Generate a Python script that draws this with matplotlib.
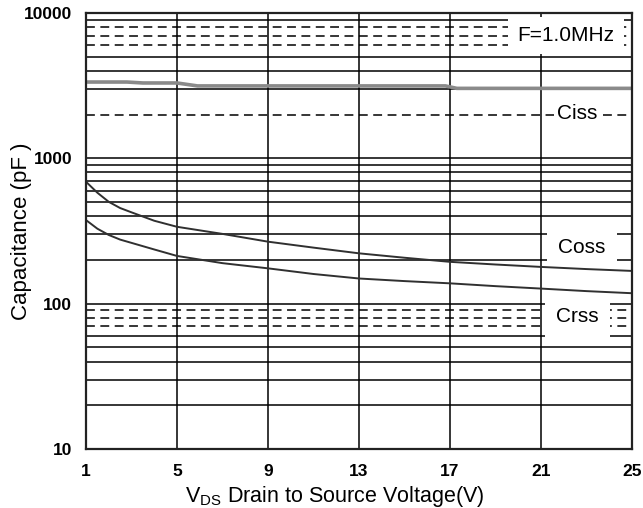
import matplotlib
matplotlib.use("Agg")
import matplotlib.pyplot as plt

plt.rcParams['font.family'] = ['Liberation Sans', 'DejaVu Sans']
plt.rcParams['mathtext.fontset'] = 'custom'
plt.rcParams['mathtext.rm'] = 'Liberation Sans'
plt.rcParams['mathtext.it'] = 'Liberation Sans'

# ---- data ----
vds = [1, 1.5, 2, 2.5, 3, 4, 5, 7, 9, 11, 13, 15, 17, 19, 21, 23, 25]
coss = [690, 580, 502, 455, 425, 372, 338, 302, 267, 243, 222, 207, 194, 186, 179, 173, 168]
crss = [376, 328, 297, 276, 262, 236, 213, 190, 175, 160, 149, 143, 138, 132, 127, 122, 118]

vds_ciss = [1, 2.8, 3.5, 5.0, 5.9, 16.8, 17.3, 25]
ciss = [3350, 3350, 3300, 3300, 3150, 3150, 3030, 3030]

x_ticks = [1, 5, 9, 13, 17, 21, 25]
y_ticks = [10, 100, 1000, 10000]
y_ticklabels = ['10', '100', '1000', '10000']

solid_grid = [9000, 5000, 4000, 3000, 1000, 900, 800, 700, 600, 500, 400, 300, 200,
              100, 60, 50, 40, 30, 20]
dashed_grid = [8000, 7000, 6000, 2000, 90, 80, 70]

# ---- figure ----
fig = plt.figure(figsize=(6.43, 5.08), dpi=100)
ax = fig.add_axes([86/643, 1-449/508, 546/643, 436/508])
ax.set_yscale('log')
ax.set_xlim(1, 25)
ax.set_ylim(10, 10000)

for v in solid_grid:
    ax.axhline(v, color='black', lw=1.1, zorder=1)
for v in dashed_grid:
    ax.axhline(v, color='black', lw=1.1, dashes=(5.8, 3.6), zorder=1)
for v in x_ticks:
    ax.axvline(v, color='black', lw=1.1, zorder=1)

ax.plot(vds_ciss, ciss, color='#8a8a8a', lw=2.6, zorder=4, solid_capstyle='butt')
ax.plot(vds, coss, color='#303030', lw=1.4, zorder=4)
ax.plot(vds, crss, color='#303030', lw=1.4, zorder=4)

box = dict(facecolor='white', edgecolor='none', boxstyle='square,pad=0.45')
ax.text(22.1, 7000, 'F=1.0MHz', fontsize=15, ha='center', va='center', bbox=box, zorder=3)
ax.text(22.6, 2050, 'Ciss', fontsize=15, ha='center', va='center',
        bbox=dict(facecolor='white', edgecolor='none', boxstyle='square,pad=0.15'), zorder=3)
ax.text(22.8, 242, 'Coss', fontsize=15, ha='center', va='center',
        bbox=dict(facecolor='white', edgecolor='none', boxstyle='square,pad=0.55'), zorder=3)
ax.text(22.6, 82, 'Crss', fontsize=15, ha='center', va='center',
        bbox=dict(facecolor='white', edgecolor='none', boxstyle='square,pad=0.55'), zorder=3)

ax.set_xticks(x_ticks)
ax.set_xticklabels([str(v) for v in x_ticks], fontweight='bold')
ax.set_yticks(y_ticks)
ax.set_yticklabels(y_ticklabels, fontweight='bold')
ax.yaxis.set_minor_locator(matplotlib.ticker.NullLocator())
ax.tick_params(axis='both', length=0, labelsize=12.5)
ax.tick_params(axis='x', pad=11)
ax.tick_params(axis='y', pad=10)

for s in ax.spines.values():
    s.set_linewidth(1.6)
    s.set_color('#222222')
    s.set_zorder(5)

ax.set_ylabel('Capacitance (pF )', fontsize=16)
ax.yaxis.set_label_coords(-0.099, 0.5)
ax.set_xlabel(r'V$_{\mathrm{DS}}$ Drain to Source Voltage(V)', fontsize=15.5)
ax.xaxis.set_label_coords(0.456, -0.081)

fig.savefig('out.png', dpi=100)
